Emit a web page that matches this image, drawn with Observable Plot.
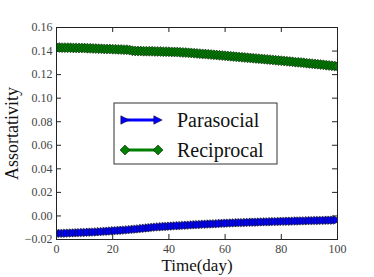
<!DOCTYPE html>
<html>
<head>
<meta charset="utf-8">
<script src="https://cdn.jsdelivr.net/npm/d3@7"></script>
<script src="https://cdn.jsdelivr.net/npm/@observablehq/plot@0.6"></script>
<style>
  html, body { margin: 0; padding: 0; background: white; }
</style>
</head>
<body>
<div id="chart"></div>
<script>
// ---- data ----
const seriesNames = ["Parasocial", "Reciprocal"];
const seriesColors = ["#0000ff", "#008000"];

const parasocial = [
  -0.0150, -0.0149, -0.0148, -0.0148, -0.0147, -0.0146, -0.0145, -0.0144, -0.0143, -0.0142, -0.0141,
  -0.0140, -0.0139, -0.0138, -0.0137, -0.0136, -0.0134, -0.0133, -0.0131, -0.0130, -0.0128,
  -0.0126, -0.0125, -0.0123, -0.0122, -0.0120, -0.0118, -0.0116, -0.0114, -0.0112, -0.0110,
  -0.0107, -0.0105, -0.0102, -0.0100, -0.0097, -0.0095, -0.0093, -0.0092, -0.0090, -0.0089,
  -0.0087, -0.0086, -0.0084, -0.0083, -0.0082, -0.0080, -0.0079, -0.0078, -0.0076, -0.0075,
  -0.0074, -0.0073, -0.0071, -0.0070, -0.0069, -0.0068, -0.0067, -0.0066, -0.0064, -0.0063,
  -0.0062, -0.0061, -0.0060, -0.0059, -0.0058, -0.0057, -0.0057, -0.0056, -0.0055, -0.0054,
  -0.0053, -0.0053, -0.0052, -0.0051, -0.0050, -0.0050, -0.0049, -0.0048, -0.0048, -0.0047,
  -0.0046, -0.0046, -0.0045, -0.0045, -0.0044, -0.0043, -0.0043, -0.0042, -0.0042, -0.0041,
  -0.0040, -0.0040, -0.0039, -0.0039, -0.0038, -0.0038, -0.0037, -0.0036, -0.0036, -0.0035
];

const reciprocal = [
  0.1430, 0.1430, 0.1429, 0.1429, 0.1428, 0.1428, 0.1427, 0.1427, 0.1426, 0.1426, 0.1425,
  0.1424, 0.1423, 0.1422, 0.1421, 0.1420, 0.1419, 0.1418, 0.1417, 0.1417, 0.1416,
  0.1415, 0.1414, 0.1413, 0.1412, 0.1411, 0.1408, 0.1403, 0.1401, 0.1400, 0.1400,
  0.1399, 0.1399, 0.1398, 0.1398, 0.1397, 0.1397, 0.1396, 0.1395, 0.1395, 0.1394,
  0.1393, 0.1392, 0.1391, 0.1390, 0.1388, 0.1387, 0.1385, 0.1384, 0.1382, 0.1380,
  0.1378, 0.1376, 0.1374, 0.1372, 0.1370, 0.1368, 0.1366, 0.1364, 0.1362, 0.1360,
  0.1358, 0.1356, 0.1353, 0.1351, 0.1349, 0.1347, 0.1345, 0.1343, 0.1341, 0.1339,
  0.1337, 0.1335, 0.1333, 0.1331, 0.1329, 0.1327, 0.1325, 0.1322, 0.1320, 0.1318,
  0.1316, 0.1313, 0.1311, 0.1309, 0.1306, 0.1304, 0.1302, 0.1300, 0.1297, 0.1295,
  0.1293, 0.1290, 0.1288, 0.1285, 0.1283, 0.1280, 0.1278, 0.1275, 0.1273, 0.1270
];

const xTicks = [0, 20, 40, 60, 80, 100];
const yTicks = [-0.02, 0.00, 0.02, 0.04, 0.06, 0.08, 0.10, 0.12, 0.14, 0.16];
const xLabel = "Time(day)";
const yLabel = "Assortativity";

// ---- build table ----
const days = parasocial.map((_, i) => i);
const rows = [];
days.forEach((d, i) => {
  rows.push({day: d, value: parasocial[i], series: seriesNames[0]});
});
days.forEach((d, i) => {
  rows.push({day: d, value: reciprocal[i], series: seriesNames[1]});
});
const paraRows = rows.filter(r => r.series === seriesNames[0]);
const recRows = rows.filter(r => r.series === seriesNames[1]);

// ---- custom matplotlib-like markers ----
const triRight = {
  draw(ctx, size) {
    const r = Math.sqrt(size / Math.PI);
    ctx.moveTo(r, 0);
    ctx.lineTo(-r, -r);
    ctx.lineTo(-r, r);
    ctx.closePath();
  }
};
const diamond = {
  draw(ctx, size) {
    const r = Math.sqrt(size / Math.PI);
    ctx.moveTo(0, -r);
    ctx.lineTo(r, 0);
    ctx.lineTo(0, r);
    ctx.lineTo(-r, 0);
    ctx.closePath();
  }
};

const W = 374, H = 277;
const mL = 56, mR = 37, mT = 27, mB = 38;
const pw = W - mL - mR, ph = H - mT - mB;
const tickLen = 5;
const fmt = d => (d < 0 ? "\u2212" : "") + Math.abs(d).toFixed(2);

const chart = Plot.plot({
  width: W,
  height: H,
  marginLeft: mL,
  marginRight: mR,
  marginTop: mT,
  marginBottom: mB,
  x: {domain: [0, 100]},
  y: {domain: [-0.02, 0.16]},
  style: {fontFamily: "'Liberation Serif', serif", fontSize: "12px", background: "white", color: "#333"},
  marks: [
    Plot.axisX({ticks: xTicks, tickSize: 0, tickPadding: 5, label: null, tickFormat: d => String(d), fill: "#444"}),
    Plot.axisY({ticks: yTicks, tickSize: 0, tickPadding: 4, label: null, tickFormat: fmt, fill: "#444"}),
    // inward ticks on all four sides
    Plot.tickX(xTicks, {x: d => d, insetTop: ph - tickLen, stroke: "#222"}),
    Plot.tickX(xTicks, {x: d => d, insetBottom: ph - tickLen, stroke: "#222"}),
    Plot.tickY(yTicks, {y: d => d, insetRight: pw - tickLen, stroke: "#222"}),
    Plot.tickY(yTicks, {y: d => d, insetLeft: pw - tickLen, stroke: "#222"}),
    // series
    Plot.line(paraRows, {x: "day", y: "value", stroke: seriesColors[0], strokeWidth: 3, clip: "frame"}),
    Plot.dot(paraRows, {x: "day", y: "value", symbol: triRight, r: 4.2, fill: seriesColors[0], stroke: "#000", strokeWidth: 0.5, clip: "frame"}),
    Plot.line(recRows, {x: "day", y: "value", stroke: seriesColors[1], strokeWidth: 3, clip: "frame"}),
    Plot.dot(recRows, {x: "day", y: "value", symbol: diamond, r: 5, fill: seriesColors[1], stroke: "#000", strokeWidth: 0.5, clip: "frame"}),
    Plot.frame({stroke: "#222"}),
    // axis titles
    Plot.text([xLabel], {text: d => d, frameAnchor: "bottom", dy: 26, lineAnchor: "middle", textAnchor: "middle", fontSize: 17, fill: "#111"}),
    Plot.text([yLabel], {text: d => d, frameAnchor: "left", dx: -44, rotate: -90, lineAnchor: "middle", textAnchor: "middle", fontSize: 18, fill: "#111"})
  ]
});

// ---- legend (inside plot, upper middle) ----
const svg = d3.select(chart);
const lg = svg.append("g").attr("font-family", "'Liberation Serif', serif").attr("text-anchor", "start");
const bx = 114, by = 103, bw = 163, bh = 61;
lg.append("rect").attr("x", bx).attr("y", by).attr("width", bw).attr("height", bh)
  .attr("fill", "white").attr("stroke", "#333").attr("stroke-width", 1);
const legendItems = [
  {name: seriesNames[0], color: seriesColors[0], sym: d3.symbol(triRight, 4.2 * 4.2 * Math.PI)},
  {name: seriesNames[1], color: seriesColors[1], sym: d3.symbol(diamond, 5 * 5 * Math.PI)}
];
legendItems.forEach((it, i) => {
  const cy = by + 17 + i * 30;
  const x1 = bx + 11, x2 = bx + 44;
  lg.append("line").attr("x1", x1).attr("x2", x2).attr("y1", cy).attr("y2", cy)
    .attr("stroke", it.color).attr("stroke-width", 3);
  [x1, x2].forEach(x => {
    lg.append("path").attr("d", it.sym()).attr("transform", `translate(${x},${cy})`)
      .attr("fill", it.color).attr("stroke", "#000").attr("stroke-width", 0.5);
  });
  lg.append("text").attr("x", bx + 63).attr("y", cy).attr("dy", "0.35em")
    .attr("text-anchor", "start")
    .attr("font-size", 20).attr("fill", "#111").text(it.name);
});

document.getElementById("chart").appendChild(chart);
</script>
</body>
</html>
